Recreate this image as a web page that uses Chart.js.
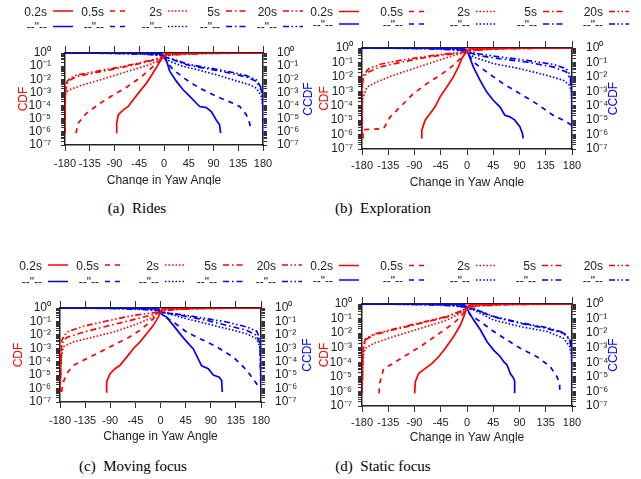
<!DOCTYPE html>
<html>
<head>
<meta charset="utf-8">
<script src="https://cdn.jsdelivr.net/npm/chart.js@4.4.1/dist/chart.umd.min.js"></script>
<style>
body { margin: 0; background: #fff; width: 641px; height: 479px; position: relative; overflow: hidden; }
.panel { position: absolute; overflow: hidden; }
.panel canvas { display: block; }
.caption { position: absolute; width: 200px; text-align: center; font: 15px "Liberation Serif", "Times New Roman", serif; color: #000; line-height: 18px; }
</style>
</head>
<body>
<div class="panel" style="left:0px; top:0px; width:320px; height:185px"><canvas id="cRides" width="320" height="190"></canvas></div>
<div class="panel" style="left:300px; top:0px; width:341px; height:187px"><canvas id="cExplore" width="341" height="190"></canvas></div>
<div class="panel" style="left:0px; top:250px; width:320px; height:193px"><canvas id="cMoving" width="320" height="195"></canvas></div>
<div class="panel" style="left:300px; top:250px; width:341px; height:193px"><canvas id="cStatic" width="341" height="195"></canvas></div>

<div class="caption" style="left:37px; top:199px">(a)&nbsp;&nbsp;Rides</div>
<div class="caption" style="left:283px; top:199px">(b)&nbsp;&nbsp;Exploration</div>
<div class="caption" style="left:33px; top:457px">(c)&nbsp;&nbsp;Moving focus</div>
<div class="caption" style="left:283px; top:457px">(d)&nbsp;&nbsp;Static focus</div>

<script>
const FONT = '"Liberation Sans", Arial, sans-serif';
const RED = '#ff0000';
const BLUE = '#0000ff';
const INK = '#222';

const durations = ['0.2s', '0.5s', '2s', '5s', '20s'];
const dittoLabel = '--"--';
const dashes = [[], [5, 5], [1.5, 2], [6, 3, 1.5, 3], [6, 2.5, 1.5, 2.5, 1.5, 2.5]];

const xTicks = [-180, -135, -90, -45, 0, 45, 90, 135, 180];
const yDecades = [1e-7, 1e-6, 1e-5, 1e-4, 1e-3, 1e-2, 1e-1, 1];

// points are [change in yaw (deg), probability]
// the part of each curve that hugs 10^0 (red on the right, blue on the left)
const cdfNearOne = [
  [[3, 0.8], [10, 0.95], [45, 0.995], [180, 1]],
  [[3, 0.75], [15, 0.93], [60, 0.99], [180, 1]],
  [[5, 0.7], [20, 0.85], [60, 0.95], [120, 0.985], [180, 1]],
  [[5, 0.65], [25, 0.8], [70, 0.92], [130, 0.98], [180, 1]],
  [[5, 0.62], [25, 0.75], [70, 0.9], [130, 0.97], [180, 1]]
];
const ccdfNearOne = [
  [[-180, 1], [-45, 0.995], [-10, 0.95], [-3, 0.8]],
  [[-180, 1], [-60, 0.99], [-15, 0.93], [-3, 0.75]],
  [[-180, 1], [-120, 0.985], [-60, 0.95], [-20, 0.85], [-5, 0.7]],
  [[-180, 1], [-130, 0.98], [-70, 0.92], [-25, 0.8], [-5, 0.65]],
  [[-180, 1], [-130, 0.97], [-70, 0.9], [-25, 0.75], [-5, 0.62]]
];

// (a) Rides
const ridesCdf = [
  [[-86, 8e-7], [-86, 4.6e-6], [-83, 2e-5], [-74, 4.7e-5], [-65, 8.5e-5], [-56, 2.8e-4], [-44, 1.2e-3], [-32, 5e-3], [-20, 3e-2], [-10.6, 0.13], [-4.5, 0.35], [0, 0.5]],
  [[-160, 8e-7], [-156, 4.6e-6], [-141, 2.6e-5], [-116, 1.5e-4], [-92, 6.6e-4], [-68, 2.5e-3], [-44, 1.26e-2], [-26, 5.4e-2], [-13.6, 0.17], [-4.5, 0.35], [0, 0.5]],
  [[-180, 8e-7], [-179.5, 4e-4], [-178, 1e-3], [-172, 1.6e-3], [-147, 3.8e-3], [-116, 9e-3], [-86, 2.2e-2], [-56, 5.4e-2], [-26, 0.13], [-8, 0.31], [0, 0.5]],
  [[-180, 8e-7], [-179.5, 5e-4], [-178, 3e-3], [-176, 5e-3], [-171, 9e-3], [-159, 1.6e-2], [-116, 3.8e-2], [-86, 6.6e-2], [-56, 0.12], [-26, 0.24], [-8, 0.4], [0, 0.5]],
  [[-180, 8e-7], [-179.5, 8e-4], [-178, 4e-3], [-176, 7e-3], [-171, 1.2e-2], [-159, 2.1e-2], [-116, 4.6e-2], [-86, 7.8e-2], [-56, 0.14], [-26, 0.26], [-8, 0.42], [0, 0.5]]
];
const ridesCcdf = [
  [[0, 0.5], [4, 0.3], [10.6, 4e-2], [22.7, 6.9e-3], [34.8, 1.6e-3], [46.9, 5e-4], [59, 1.5e-4], [65, 8.5e-5], [77, 7e-5], [86, 3.5e-5], [95, 8e-6], [101, 3.4e-6], [103, 8e-7]],
  [[0, 0.5], [4.5, 0.23], [16.6, 5.4e-2], [40.8, 9.1e-3], [65, 2.1e-3], [95.3, 5e-4], [125.5, 1.5e-4], [137.6, 8.5e-5], [149.7, 2e-5], [155.8, 4.6e-6], [157, 1.9e-6]],
  [[0, 0.5], [10.6, 0.23], [34.8, 9.6e-2], [65, 4.8e-2], [95.3, 2.2e-2], [125.5, 9.1e-3], [155.8, 3.8e-3], [168, 2.1e-3], [177, 5e-4], [179.5, 1e-4], [180, 8e-7]],
  [[0, 0.5], [16.6, 0.31], [40.8, 0.13], [65, 8e-2], [95.3, 4.8e-2], [125.5, 2.6e-2], [149.7, 1.5e-2], [168, 6.9e-3], [177, 1.6e-3], [179.5, 3e-4], [180, 8e-7]],
  [[0, 0.5], [16.6, 0.34], [40.8, 0.15], [65, 9.5e-2], [95.3, 5.8e-2], [125.5, 3.3e-2], [149.7, 1.9e-2], [168, 9e-3], [177, 2.2e-3], [179.5, 5e-4], [180, 8e-7]]
];

// (b) Exploration
const exploreCdf = [
  [[-77.5, 5.4e-7], [-77.5, 2e-6], [-71.8, 1e-5], [-63.2, 2.9e-5], [-54.7, 8.3e-5], [-46.1, 4.1e-4], [-34.7, 2e-3], [-23.4, 1e-2], [-14.8, 4.9e-2], [-9.1, 0.18], [-3.4, 0.41], [0, 0.6]],
  [[-178.3, 5.4e-7], [-178.3, 2.2e-6], [-143, 2.6e-6], [-131.6, 1.7e-5], [-114.5, 8.3e-5], [-91.7, 6.9e-4], [-68.9, 3.4e-3], [-46.1, 1.3e-2], [-23.4, 6.3e-2], [-12, 0.18], [-3.4, 0.41], [0, 0.6]],
  [[-180, 6e-7], [-179.5, 2.5e-4], [-171.5, 2e-3], [-154.4, 4.5e-3], [-125.9, 1.3e-2], [-91.7, 3.7e-2], [-57.5, 0.107], [-23.4, 0.3], [-6, 0.45], [0, 0.6]],
  [[-180, 6e-7], [-179.5, 3e-3], [-177.2, 1e-2], [-168.6, 2.2e-2], [-148.7, 4.9e-2], [-114.5, 0.1], [-80.3, 0.19], [-46.1, 0.31], [-12, 0.45], [0, 0.6]],
  [[-180, 6e-7], [-179.5, 4e-3], [-177.2, 1.3e-2], [-168.6, 3.7e-2], [-148.7, 7.5e-2], [-114.5, 0.14], [-80.3, 0.23], [-46.1, 0.35], [-12, 0.5], [0, 0.6]]
];
const exploreCcdf = [
  [[0, 0.6], [2.3, 0.4], [10.8, 4.9e-2], [22.2, 5.9e-3], [33.6, 9.1e-4], [45, 2.4e-4], [56.4, 8.3e-5], [64.9, 2.2e-5], [73.5, 1.7e-5], [82, 1e-5], [90.6, 3.5e-6], [95.1, 1.2e-6], [96.3, 5.4e-7]],
  [[0, 0.6], [3, 0.35], [10.8, 0.107], [33.6, 2.2e-2], [62.1, 3.4e-3], [90.6, 6.9e-4], [119, 1.4e-4], [147.5, 2.2e-5], [170.3, 7.6e-6], [180, 4.5e-6]],
  [[0, 0.6], [10.8, 0.24], [45, 8.3e-2], [90.6, 3.7e-2], [136.1, 1.3e-2], [164.6, 5.9e-3], [176, 2.6e-3], [179.5, 6.9e-4], [180, 6e-7]],
  [[0, 0.6], [16.5, 0.31], [56.4, 0.18], [101.9, 0.107], [147.5, 4.9e-2], [170.3, 2.2e-2], [177.1, 7.6e-3], [179.5, 6.9e-4], [180, 6e-7]],
  [[0, 0.6], [16.5, 0.41], [56.4, 0.24], [101.9, 0.14], [147.5, 7.4e-2], [170.3, 3.7e-2], [177.1, 1.3e-2], [179.5, 2e-3], [180, 6e-7]]
];

// (c) Moving focus
const movingCdf = [
  [[-97.6, 5.6e-7], [-96.4, 3.2e-6], [-90.4, 1.3e-5], [-81.5, 3e-5], [-72.5, 5.4e-5], [-60.6, 2.2e-4], [-48.7, 9.3e-4], [-36.7, 3e-3], [-24.8, 1.2e-2], [-12.8, 5.1e-2], [-3.9, 0.21], [0, 0.5]],
  [[-177, 5.6e-7], [-175.2, 2.3e-6], [-168, 1.3e-5], [-156, 5.4e-5], [-132.2, 1.7e-4], [-108.4, 5.2e-4], [-84.5, 1.7e-3], [-60.6, 5.2e-3], [-36.7, 2.2e-2], [-18.8, 9.1e-2], [-6.9, 0.28], [0, 0.5]],
  [[-180, 5.6e-7], [-178.2, 1.3e-4], [-174, 1.3e-3], [-156, 3e-3], [-120.3, 6.9e-3], [-84.5, 1.6e-2], [-48.7, 5.1e-2], [-18.8, 0.16], [-3.9, 0.42], [0, 0.5]],
  [[-180, 5.6e-7], [-177, 2.2e-3], [-168, 6.3e-3], [-138.2, 1.6e-2], [-96.4, 4.4e-2], [-48.7, 0.135], [-18.8, 0.28], [-3.9, 0.45], [0, 0.5]],
  [[-180, 5.6e-7], [-177, 3.9e-3], [-168, 1.6e-2], [-138.2, 4.4e-2], [-96.4, 0.107], [-48.7, 0.28], [-12.8, 0.45], [0, 0.5]]
];
const movingCcdf = [
  [[0, 0.5], [4, 0.3], [11, 0.21], [23, 5.1e-2], [40.9, 6e-3], [58.8, 9e-4], [73.7, 5e-5], [85.6, 3e-5], [94.6, 1e-5], [105.3, 7e-6], [109.5, 4e-6], [110.7, 5.6e-7]],
  [[0, 0.5], [3, 0.3], [23, 9.1e-2], [46.9, 1.6e-2], [70.7, 5.2e-3], [100.6, 1.3e-3], [130.4, 2.2e-4], [154.3, 2.3e-5], [172.2, 2.3e-6], [178.2, 1e-6]],
  [[0, 0.5], [11, 0.4], [46.9, 0.16], [82.7, 6.8e-2], [118.5, 2.9e-2], [154.3, 1.2e-2], [172.2, 5.2e-3], [178.2, 1.3e-3], [180, 1.3e-4], [180, 5.6e-7]],
  [[0, 0.5], [11, 0.42], [46.9, 0.24], [82.7, 0.12], [118.5, 5.1e-2], [154.3, 2.2e-2], [172.2, 9.3e-3], [178.2, 2.2e-3], [180, 5.6e-7]],
  [[0, 0.5], [11, 0.44], [46.9, 0.28], [82.7, 0.16], [118.5, 9.1e-2], [154.3, 3.9e-2], [172.2, 1.9e-2], [178.2, 5.2e-3], [180, 5.6e-7]]
];

// (d) Static focus
const staticCdf = [
  [[-89.7, 7.4e-7], [-88.6, 4.7e-6], [-82.9, 1.7e-5], [-71.4, 3.8e-5], [-60, 8.5e-5], [-48.6, 2.4e-4], [-37.1, 9.1e-4], [-22.9, 5.8e-3], [-11.4, 3.6e-2], [-5.7, 0.13], [-1.5, 0.39], [0, 0.5]],
  [[-150.9, 7.4e-7], [-149.7, 3.5e-6], [-142.9, 3.8e-5], [-131.4, 6.5e-5], [-108.6, 2.4e-4], [-80, 1.2e-3], [-51.4, 7.4e-3], [-22.9, 4.7e-2], [-8.6, 0.17], [0, 0.5]],
  [[-180, 7.4e-7], [-178.3, 2.4e-4], [-174.3, 9.1e-4], [-160, 2e-3], [-125.7, 5.8e-3], [-80, 2.1e-2], [-34.3, 7.9e-2], [-11.4, 0.23], [0, 0.5]],
  [[-180, 7.4e-7], [-178.3, 6.9e-4], [-174.3, 3.4e-3], [-160, 7.4e-3], [-125.7, 1.7e-2], [-80, 4.7e-2], [-34.3, 0.13], [-11.4, 0.3], [0, 0.5]],
  [[-180, 7.4e-7], [-178.3, 8e-4], [-174.3, 4e-3], [-160, 8.5e-3], [-125.7, 1.9e-2], [-80, 5.2e-2], [-34.3, 0.14], [-11.4, 0.32], [0, 0.5]]
];
const staticCcdf = [
  [[0, 0.5], [2.9, 0.3], [11.4, 7.9e-2], [22.9, 1.7e-2], [34.3, 2.6e-3], [45.7, 6.9e-4], [57.1, 2.4e-4], [62.9, 1.1e-4], [68.6, 6.5e-5], [74.3, 1.7e-5], [80, 7.9e-6], [81.7, 5e-6], [81.7, 7.4e-7]],
  [[0, 0.5], [5.7, 0.17], [22.9, 6.2e-2], [45.7, 1.3e-2], [68.6, 3.4e-3], [91.4, 9.1e-4], [120, 2.4e-4], [142.9, 5e-5], [154.3, 1e-5], [158.9, 3.5e-6], [158.9, 7.4e-7]],
  [[0, 0.5], [11.4, 0.39], [45.7, 7.9e-2], [91.4, 2.8e-2], [137.1, 1.3e-2], [165.7, 4.4e-3], [176, 1.2e-3], [179.5, 2.4e-4], [180, 7.4e-7]],
  [[0, 0.5], [11.4, 0.45], [45.7, 0.13], [91.4, 4.7e-2], [137.1, 2.1e-2], [165.7, 9.8e-3], [176, 3.4e-3], [179.5, 6.9e-4], [180, 7.4e-7]],
  [[0, 0.5], [11.4, 0.47], [45.7, 0.14], [91.4, 5.2e-2], [137.1, 2.4e-2], [165.7, 1.1e-2], [176, 3.9e-3], [179.5, 8e-4], [180, 7.4e-7]]
];

// layout of each panel, in canvas pixels
const panels = [
  { canvas: 'cRides', cdf: ridesCdf, ccdf: ridesCcdf,
    axisW: [65, 57], axisH: [53, 45], cdfPad: 16, ccdfX: 309, xTitlePad: 2,
    yPadL: 10, xTick: 6, xPad: 6, legendRows: [11, 26.5], legendEdges: [47, 104, 162, 220, 277] },
  { canvas: 'cExplore', cdf: exploreCdf, ccdf: exploreCcdf,
    axisW: [62, 69], axisH: [48, 41], cdfPad: 17, ccdfX: 314, xTitlePad: 0.3,
    yPadL: 5, xTick: 6, xPad: 4, legendRows: [11.5, 24], legendEdges: [33, 103, 170, 237, 303] },
  { canvas: 'cMoving', cdf: movingCdf, ccdf: movingCcdf,
    axisW: [60, 59], axisH: [58, 43], cdfPad: 11, ccdfX: 308, xTitlePad: 0.8,
    yPadL: 5, xTick: 6, xPad: 6, legendRows: [15, 31.5], legendEdges: [42, 99, 159, 217, 276] },
  { canvas: 'cStatic', cdf: staticCdf, ccdf: staticCcdf,
    axisW: [62, 69], axisH: [54, 39], cdfPad: 17, ccdfX: 314, xTitlePad: 0.3,
    yPadL: 6, xTick: 6, xPad: 4, legendRows: [15.5, 30], legendEdges: [33, 103, 170, 236, 303] }
];

Chart.defaults.font.family = FONT;

const supDigits = { '-': '\u207b', '0': '\u2070', '1': '\u00b9', '2': '\u00b2', '3': '\u00b3', '4': '\u2074', '5': '\u2075', '6': '\u2076', '7': '\u2077', '8': '\u2078', '9': '\u2079' };
function powerLabel(v) {
  const l = Math.log10(v);
  const e = Math.round(l);
  if (Math.abs(l - e) > 1e-6) return '';
  return '10' + String(e).split('').map(c => supDigits[c]).join('');
}

// decades plus the 2..9 minor marks
const yTickValues = [];
yDecades.forEach((d, i) => {
  yTickValues.push(d);
  if (i < yDecades.length - 1) for (let m = 2; m < 10; m++) yTickValues.push(d * m);
});

function toXY(points) {
  return points.map(p => ({ x: p[0], y: p[1] }));
}

function legendPlugin(p) {
  return {
    id: 'pairLegend',
    afterDraw(chart) {
      const ctx = chart.ctx;
      ctx.save();
      ctx.font = '12px ' + FONT;
      ctx.textAlign = 'right';
      ctx.textBaseline = 'middle';
      p.legendEdges.forEach((x, i) => {
        p.legendRows.forEach((y, row) => {
          ctx.fillStyle = INK;
          ctx.fillText(row === 0 ? durations[i] : dittoLabel, x, y + 1.5);
          ctx.beginPath();
          ctx.setLineDash(dashes[i]);
          ctx.strokeStyle = row === 0 ? RED : BLUE;
          ctx.lineWidth = 1.5;
          ctx.moveTo(x + 6, y);
          ctx.lineTo(x + 26, y);
          ctx.stroke();
        });
      });
      // right axis title, reading bottom to top like the left one
      const a = chart.chartArea;
      ctx.setLineDash([]);
      ctx.translate(p.ccdfX, (a.top + a.bottom) / 2);
      ctx.rotate(-Math.PI / 2);
      ctx.textAlign = 'center';
      ctx.fillStyle = BLUE;
      ctx.fillText('CCDF', 0, 0);
      ctx.restore();
    }
  };
}

function yAxis(pos, p) {
  return {
    type: 'logarithmic',
    position: pos,
    min: 1e-7,
    max: 1,
    afterBuildTicks: s => { s.ticks = yTickValues.map(v => ({ value: v })); },
    afterFit: s => { s.width = pos === 'left' ? p.axisW[0] : p.axisW[1]; },
    ticks: { autoSkip: false, color: INK, font: { size: 12 }, padding: pos === 'left' ? p.yPadL : 10, callback: v => powerLabel(v) },
    grid: { drawOnChartArea: false, tickLength: 4, color: '#333', lineWidth: 1 },
    border: { display: true, color: INK, width: 1.5 },
    title: pos === 'left'
      ? { display: true, text: 'CDF', color: RED, font: { size: 12 }, padding: { top: p.cdfPad, bottom: 0 } }
      : { display: false }
  };
}

function xAxis(pos, p) {
  return {
    type: 'linear',
    position: pos,
    min: -180,
    max: 180,
    afterBuildTicks: s => { s.ticks = xTicks.map(v => ({ value: v })); },
    afterFit: s => { s.height = pos === 'top' ? p.axisH[0] : p.axisH[1]; },
    ticks: { display: pos === 'bottom', autoSkip: false, maxRotation: 0, color: INK, font: { size: 11 }, padding: p.xPad },
    grid: { drawOnChartArea: false, tickLength: pos === 'top' ? 7 : p.xTick, color: '#333', lineWidth: 1 },
    border: { display: true, color: INK, width: 1.5 },
    title: pos === 'bottom'
      ? { display: true, text: 'Change in Yaw Angle', color: INK, font: { size: 12 }, padding: { top: 0, bottom: p.xTitlePad } }
      : { display: false }
  };
}

panels.forEach(p => {
  const datasets = [];
  durations.forEach((d, i) => {
    datasets.push({
      label: d + ' CDF',
      data: toXY(p.cdf[i].concat(cdfNearOne[i])),
      borderColor: RED,
      borderDash: dashes[i],
      borderWidth: 1.7,
      pointRadius: 0,
      tension: 0,
      fill: false,
      xAxisID: 'x',
      yAxisID: 'y'
    });
  });
  durations.forEach((d, i) => {
    datasets.push({
      label: d + ' CCDF',
      data: toXY(ccdfNearOne[i].concat(p.ccdf[i])),
      borderColor: BLUE,
      borderDash: dashes[i],
      borderWidth: 1.7,
      pointRadius: 0,
      tension: 0,
      fill: false,
      xAxisID: 'x',
      yAxisID: 'y'
    });
  });

  new Chart(document.getElementById(p.canvas), {
    type: 'line',
    data: { datasets: datasets },
    options: {
      responsive: false,
      animation: false,
      devicePixelRatio: 1,
      events: [],
      layout: { padding: 0 },
      plugins: { legend: { display: false }, tooltip: { enabled: false }, title: { display: false } },
      scales: {
        x: xAxis('bottom', p),
        x2: xAxis('top', p),
        y: yAxis('left', p),
        y2: yAxis('right', p)
      }
    },
    plugins: [legendPlugin(p)]
  });
});
</script>
</body>
</html>
